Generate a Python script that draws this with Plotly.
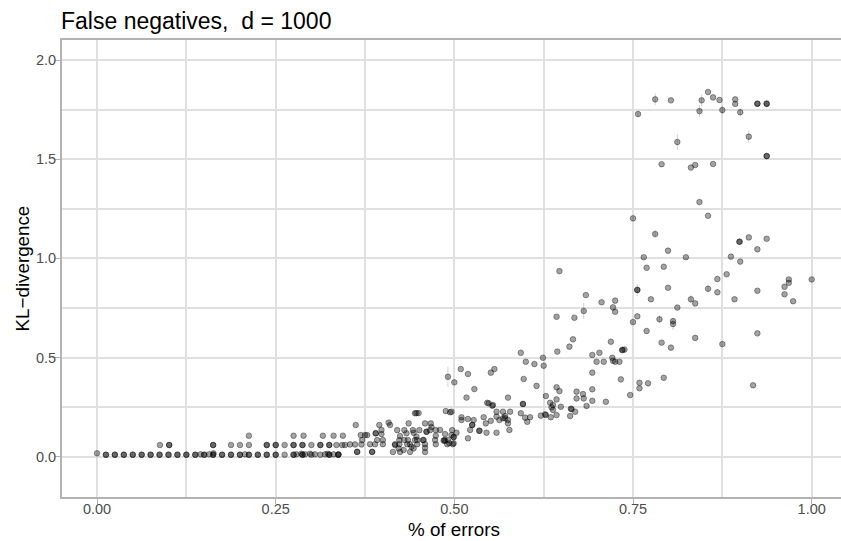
import plotly.graph_objects as go

# ---------------- data ----------------
# x: fraction of errors, y: KL-divergence
x_vals = [
    0.0,
    # bottom row (y ~ 0.01)
    0.0125, 0.0125, 0.025, 0.025, 0.0375, 0.0375, 0.05, 0.05, 0.0625, 0.0625,
    0.075, 0.075, 0.0875, 0.0875, 0.1, 0.1, 0.1125, 0.1125, 0.125, 0.125,
    0.1375, 0.1375, 0.145, 0.15, 0.15, 0.157,
    0.1625, 0.1625, 0.163, 0.175, 0.175, 0.1875, 0.1875, 0.2, 0.2, 0.207,
    0.2125, 0.2125, 0.225, 0.225, 0.2375, 0.2375, 0.25, 0.25,
    0.2625, 0.275, 0.275, 0.2875, 0.2875, 0.3, 0.3125, 0.325, 0.325, 0.3375, 0.3375,
    0.279, 0.286, 0.291, 0.298, 0.305, 0.319, 0.323, 0.331, 0.338, 0.364, 0.385,
    # second row (y ~ 0.06)
    0.088, 0.101, 0.101, 0.1625, 0.1625, 0.1875, 0.2, 0.2125,
    0.2375, 0.2375, 0.25, 0.25, 0.2625, 0.275, 0.275, 0.2875, 0.2875, 0.3,
    0.3125, 0.3125, 0.325, 0.325, 0.335, 0.343, 0.347, 0.354, 0.361, 0.37,
    0.382, 0.389, 0.4, 0.417, 0.423, 0.434, 0.438, 0.448, 0.459, 0.474, 0.49, 0.498,
    # third row (y ~ 0.1)
    0.2125, 0.275, 0.289, 0.316, 0.331, 0.344, 0.369, 0.375, 0.378, 0.39, 0.39,
    0.398, 0.424, 0.433, 0.443, 0.447, 0.461, 0.461, 0.474, 0.487, 0.496,
    0.499, 0.499, 0.503,
    # y ~ 0.13 - 0.17
    0.362, 0.395, 0.398, 0.408, 0.41, 0.42, 0.43, 0.436, 0.442, 0.451, 0.459,
    0.467, 0.466, 0.474, 0.48, 0.497, 0.468,
    # low scatter x 0.36 - 0.5
    0.364, 0.385, 0.414, 0.424, 0.438, 0.459,
    0.371, 0.392, 0.4, 0.423, 0.43, 0.435, 0.445, 0.448, 0.456, 0.457, 0.473,
    0.486, 0.491, 0.417, 0.422, 0.429, 0.44, 0.443, 0.459, 0.485, 0.493, 0.499, 0.487,
    # middle cloud
    0.445, 0.447, 0.45, 0.488, 0.494, 0.491, 0.5, 0.509, 0.519, 0.517, 0.528,
    0.496, 0.51, 0.51, 0.519, 0.519, 0.522, 0.525, 0.525, 0.527, 0.535, 0.535,
    0.541, 0.544, 0.545, 0.546, 0.551, 0.551, 0.554, 0.556, 0.559, 0.559, 0.559,
    0.563, 0.568, 0.568, 0.571, 0.571, 0.575, 0.575, 0.575, 0.577, 0.578,
    0.548, 0.553, 0.593, 0.593, 0.596, 0.596, 0.597, 0.599, 0.6, 0.602, 0.606,
    0.612, 0.615, 0.621, 0.624, 0.625, 0.628, 0.628, 0.634, 0.635, 0.636, 0.638,
    0.638, 0.643, 0.643, 0.643, 0.644, 0.647, 0.649, 0.661, 0.663, 0.666, 0.669,
    0.671, 0.671, 0.68, 0.681, 0.685, 0.693, 0.693, 0.693, 0.693, 0.699, 0.703,
    0.709, 0.712, 0.719, 0.721, 0.722, 0.731, 0.733, 0.735, 0.735, 0.738,
    0.662, 0.664, 0.627, 0.725,
    # upper-middle
    0.647, 0.684, 0.706, 0.725, 0.722, 0.725, 0.643, 0.668, 0.681,
    0.746, 0.759, 0.759, 0.771, 0.793, 0.918,
    0.75, 0.756, 0.787, 0.806, 0.806, 0.769, 0.837, 0.79, 0.803, 0.875, 0.924,
    # top right
    0.781, 0.803, 0.757, 0.812, 0.846, 0.843, 0.855, 0.862, 0.871, 0.875,
    0.893, 0.893, 0.9, 0.924, 0.924, 0.937, 0.937, 0.912, 0.937, 0.937,
    0.79, 0.831, 0.837, 0.862, 0.843, 0.855, 0.75, 0.781, 0.899, 0.899,
    0.912, 0.937, 0.924, 0.765, 0.799, 0.824, 0.887, 0.9, 0.769, 0.793,
    0.881, 0.868, 0.756, 0.756, 0.799, 0.855, 0.868, 0.924, 0.962, 0.968,
    0.968, 0.962, 0.974, 1.0, 0.775, 0.812, 0.831, 0.837, 0.892,
]

y_vals = [
    0.017,
    # bottom row
    0.01, 0.01, 0.01, 0.01, 0.01, 0.01, 0.01, 0.01, 0.01, 0.01,
    0.01, 0.01, 0.01, 0.01, 0.01, 0.01, 0.01, 0.01, 0.01, 0.01,
    0.01, 0.01, 0.012, 0.01, 0.01, 0.012,
    0.01, 0.01, 0.017, 0.01, 0.01, 0.01, 0.01, 0.01, 0.01, 0.012,
    0.01, 0.01, 0.01, 0.01, 0.01, 0.01, 0.01, 0.01,
    0.01, 0.01, 0.01, 0.01, 0.01, 0.01, 0.01, 0.01, 0.01, 0.01, 0.01,
    0.012, 0.015, 0.012, 0.015, 0.012, 0.012, 0.015, 0.012, 0.012, 0.025, 0.025,
    # second row
    0.059, 0.059, 0.059, 0.059, 0.059, 0.059, 0.059, 0.059,
    0.059, 0.059, 0.059, 0.059, 0.059, 0.059, 0.059, 0.059, 0.059, 0.059,
    0.059, 0.059, 0.059, 0.059, 0.059, 0.059, 0.059, 0.062, 0.062, 0.062,
    0.063, 0.063, 0.063, 0.063, 0.063, 0.063, 0.063, 0.063, 0.063, 0.063, 0.063, 0.063,
    # third row
    0.106, 0.106, 0.106, 0.106, 0.106, 0.106, 0.109, 0.109, 0.109, 0.118, 0.118,
    0.114, 0.104, 0.118, 0.121, 0.101, 0.126, 0.126, 0.106, 0.114, 0.109,
    0.099, 0.099, 0.121,
    # y ~ 0.13 - 0.17
    0.16, 0.16, 0.135, 0.172, 0.16, 0.134, 0.134, 0.168, 0.134, 0.134, 0.168,
    0.168, 0.134, 0.134, 0.135, 0.134, 0.15,
    # low scatter
    0.024, 0.024, 0.024, 0.024, 0.024, 0.024,
    0.084, 0.084, 0.084, 0.084, 0.084, 0.084, 0.084, 0.084, 0.084, 0.084, 0.084,
    0.084, 0.084, 0.059, 0.042, 0.034, 0.05, 0.042, 0.045, 0.081, 0.068, 0.068, 0.081,
    # middle cloud
    0.219, 0.22, 0.22, 0.23, 0.224, 0.403, 0.375, 0.442, 0.417, 0.298, 0.341,
    0.227, 0.199, 0.185, 0.19, 0.093, 0.135, 0.16, 0.16, 0.185, 0.131, 0.131,
    0.199, 0.168, 0.121, 0.272, 0.181, 0.424, 0.261, 0.442, 0.227, 0.202, 0.121,
    0.185, 0.194, 0.227, 0.194, 0.205, 0.185, 0.168, 0.298, 0.135, 0.227,
    0.269, 0.257, 0.524, 0.219, 0.266, 0.266, 0.392, 0.197, 0.479, 0.176, 0.199,
    0.467, 0.357, 0.207, 0.499, 0.459, 0.306, 0.21, 0.272, 0.199, 0.249, 0.236,
    0.261, 0.35, 0.289, 0.21, 0.53, 0.331, 0.252, 0.555, 0.242, 0.592, 0.227,
    0.328, 0.294, 0.316, 0.294, 0.256, 0.513, 0.424, 0.34, 0.282, 0.479, 0.524,
    0.479, 0.277, 0.58, 0.499, 0.484, 0.479, 0.39, 0.538, 0.538, 0.54,
    0.205, 0.24, 0.214, 0.479,
    # upper-middle
    0.936, 0.815, 0.779, 0.787, 0.753, 0.731, 0.706, 0.701, 0.735,
    0.311, 0.345, 0.373, 0.37, 0.398, 0.36,
    0.679, 0.708, 0.693, 0.684, 0.669, 0.634, 0.599, 0.575, 0.55, 0.568, 0.622,
    # top right
    1.802, 1.797, 1.728, 1.587, 1.797, 1.743, 1.839, 1.812, 1.799, 1.748,
    1.802, 1.779, 1.737, 1.78, 1.78, 1.78, 1.78, 1.614, 1.516, 1.516,
    1.475, 1.458, 1.471, 1.476, 1.284, 1.215, 1.202, 1.123, 1.084, 1.084,
    1.106, 1.099, 1.046, 1.006, 1.039, 1.006, 1.009, 0.984, 0.953, 0.958,
    0.92, 0.896, 0.841, 0.841, 0.852, 0.847, 0.829, 0.837, 0.857, 0.894,
    0.877, 0.819, 0.784, 0.894, 0.794, 0.752, 0.794, 0.773, 0.794,
]

# points with a visible error bar, and the bar's half length
err_points_x = [0.491, 0.681, 0.757, 0.781, 0.812, 0.846, 0.843, 0.875, 0.9,
                0.937, 0.912, 0.781, 0.756, 0.787, 0.806, 0.831, 0.855]
err_points_y = [0.403, 0.735, 1.728, 1.802, 1.587, 1.797, 1.743, 1.748, 1.737,
                1.78, 1.614, 1.123, 0.841, 0.693, 0.669, 0.794, 0.847]
err_half = [0.05, 0.04, 0.015, 0.03, 0.04, 0.03, 0.03, 0.02, 0.02,
            0.02, 0.03, 0.02, 0.03, 0.02, 0.03, 0.02, 0.02]

x_ticks = [0.0, 0.25, 0.5, 0.75, 1.0]
y_ticks = [0.0, 0.5, 1.0, 1.5, 2.0]

title_text = "False negatives,\u00a0 d = 1000"
x_title = "% of errors"
y_title = "KL\u2212divergence"

# ---------------- figure ----------------
FONT = "Liberation Sans, Arial, Helvetica, sans-serif"
GRID = "#E0E0E0"
BORDER = "#B3B3B3"

fig = go.Figure()

fig.add_trace(go.Scatter(
    x=err_points_x, y=err_points_y, mode="markers",
    marker=dict(size=1, color="rgba(0,0,0,0)"),
    error_y=dict(type="data", array=err_half, visible=True,
                 color="rgba(0,0,0,0.18)", thickness=1, width=0),
    hoverinfo="skip", showlegend=False,
))

fig.add_trace(go.Scatter(
    x=x_vals, y=y_vals, mode="markers",
    marker=dict(size=5.6, color="rgba(0,0,0,0.36)",
                line=dict(color="rgba(0,0,0,0.36)", width=1.0)),
    showlegend=False,
))

fig.update_layout(
    width=841, height=541,
    margin=dict(l=62, r=0, t=40, b=44, autoexpand=False),
    paper_bgcolor="white", plot_bgcolor="white",
    font=dict(family=FONT, color="#4D4D4D"),
    xaxis=dict(
        range=[-0.049, 1.041], tickvals=x_ticks, tickformat=".2f",
        automargin=False,
        showgrid=True, gridcolor=GRID, gridwidth=2.2,
        minor=dict(dtick=0.125, tick0=0, showgrid=True, gridcolor=GRID, gridwidth=1.8),
        showline=True, linecolor=BORDER, linewidth=1.8, mirror=True,
        ticks="outside", ticklen=5, tickcolor=BORDER, tickwidth=1,
        ticklabelstandoff=-7,
        tickfont=dict(size=14.5, color="#4D4D4D", family=FONT),
        zeroline=False,
    ),
    yaxis=dict(
        range=[-0.2032, 2.1014], tickvals=y_ticks, tickformat=".1f",
        automargin=False,
        showgrid=True, gridcolor=GRID, gridwidth=2.2,
        minor=dict(dtick=0.25, tick0=0, showgrid=True, gridcolor=GRID, gridwidth=1.8),
        showline=True, linecolor=BORDER, linewidth=1.8, mirror=False,
        ticks="outside", ticklen=5, tickcolor=BORDER, tickwidth=1,
        ticklabelstandoff=-4,
        tickfont=dict(size=14.5, color="#4D4D4D", family=FONT),
        zeroline=False,
    ),
    annotations=[
        dict(text=title_text, xref="paper", yref="paper", x=0, y=1,
             xanchor="left", yanchor="bottom", xshift=-3, yshift=4, showarrow=False,
             font=dict(size=23, color="black", family=FONT)),
        dict(text=x_title, xref="x", yref="paper", x=0.5, y=0,
             xanchor="center", yanchor="top", yshift=-20, showarrow=False,
             font=dict(size=18.8, color="black", family=FONT)),
        dict(text=y_title, xref="paper", yref="paper", x=0, y=0.5,
             xanchor="center", yanchor="middle", xshift=-40, textangle=-90,
             showarrow=False, font=dict(size=18.8, color="black", family=FONT)),
    ],
)

fig.write_html(
    "out.html",
    config={"displayModeBar": False},
    post_script="document.body.style.margin='0';document.body.style.overflow='hidden';",
)
